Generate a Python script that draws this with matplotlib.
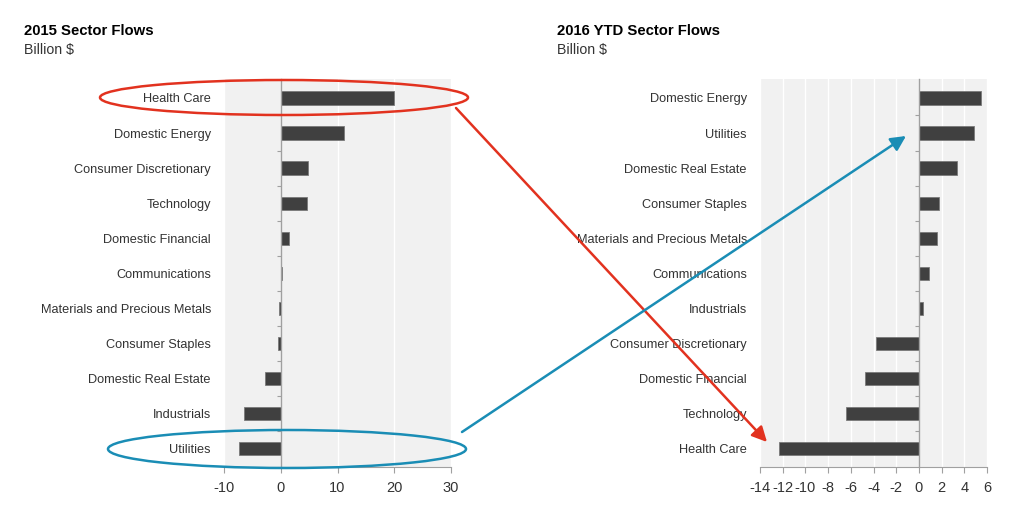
import matplotlib
matplotlib.use('Agg')
import matplotlib.pyplot as plt
import matplotlib.transforms as mtransforms
from matplotlib.patches import Ellipse, FancyArrowPatch

plt.rcParams['font.family'] = ['Liberation Sans', 'DejaVu Sans']

# 2015 flows, top to bottom
sectors_2015 = ['Health Care', 'Domestic Energy', 'Consumer Discretionary', 'Technology',
                'Domestic Financial', 'Communications', 'Materials and Precious Metals',
                'Consumer Staples', 'Domestic Real Estate', 'Industrials', 'Utilities']
flows_2015 = [19.9, 11.2, 4.8, 4.6, 1.4, 0.2, -0.35, -0.5, -2.7, -6.4, -7.3]

# 2016 YTD flows, top to bottom
sectors_2016 = ['Domestic Energy', 'Utilities', 'Domestic Real Estate', 'Consumer Staples',
                'Materials and Precious Metals', 'Communications', 'Industrials',
                'Consumer Discretionary', 'Domestic Financial', 'Technology', 'Health Care']
flows_2016 = [5.43, 4.85, 3.38, 1.76, 1.59, 0.91, 0.38, -3.79, -4.76, -6.46, -12.3]

xticks_2015 = [-10, 0, 10, 20, 30]
xticks_2016 = list(range(-14, 7, 2))

W, H = 1024, 528
TXT = '#333333'
BAR = '#404040'
AXC = '#a0a0a0'


def px(x, y):
    return x / W, 1 - y / H


def draw_panel(ax, names, vals, xticks, title, title_x):
    n = len(names)
    ypos = list(range(n - 1, -1, -1))
    ax.set_facecolor('#f1f1f1')
    ax.barh(ypos, vals, height=0.38, color=BAR, edgecolor='#7a7a7a', linewidth=0.6, zorder=3)
    ax.set_xlim(xticks[0], xticks[-1])
    ax.set_ylim(-0.52, n - 0.46)
    ax.set_xticks(xticks)
    ax.set_xticklabels([str(t) for t in xticks])
    ax.grid(axis='x', color='white', linewidth=1.0, zorder=1)
    ax.set_axisbelow(True)

    # zero line carries the small ticks between categories
    ax.spines['left'].set_position(('data', 0))
    ax.spines['left'].set_color(AXC)
    ax.spines['left'].set_linewidth(1.0)
    ax.spines['left'].set_zorder(4)
    ax.set_yticks([y + 0.5 for y in range(n - 1)])
    ax.set_yticklabels([])
    ax.tick_params(axis='y', length=3, width=0.8, color=AXC)

    # category labels sit outside the plot area
    trans = mtransforms.blended_transform_factory(ax.transAxes, ax.transData)
    off = mtransforms.ScaledTranslation(-13 / 100, 0, fig.dpi_scale_trans)
    for y, name in zip(ypos, names):
        ax.text(0, y, name, transform=trans + off, ha='right', va='center_baseline',
                fontsize=9.2, color=TXT)

    ax.tick_params(axis='x', length=4, width=0.8, color=AXC, labelsize=10.5,
                   labelcolor=TXT, pad=6)
    for s in ['top', 'right']:
        ax.spines[s].set_visible(False)
    ax.spines['bottom'].set_color(AXC)
    ax.spines['bottom'].set_linewidth(0.8)

    fig.text(title_x, 1 - 35 / H, title, fontsize=10.7, fontweight='bold',
             color='black', va='baseline')
    fig.text(title_x, 1 - 54 / H, 'Billion $', fontsize=10.2, color=TXT, va='baseline')


fig = plt.figure(figsize=(10.24, 5.28), dpi=100)
ax1 = fig.add_axes([224 / W, 1 - 467 / H, 227 / W, 388 / H])
ax2 = fig.add_axes([760 / W, 1 - 467 / H, 227 / W, 388 / H])

draw_panel(ax1, sectors_2015, flows_2015, xticks_2015, '2015 Sector Flows', 24 / W)
draw_panel(ax2, sectors_2016, flows_2016, xticks_2016, '2016 YTD Sector Flows', 557 / W)

red = '#e2321f'
blue = '#1a8db5'

for (cx, cy, w, h, c) in [(284, 97.5, 368, 35, red), (287, 449, 358, 38, blue)]:
    e = Ellipse(px(cx, cy), w / W, h / H, transform=fig.transFigure, fill=False,
                edgecolor=c, linewidth=1.8, zorder=10)
    fig.add_artist(e)

for (x0, y0, x1, y1, c) in [(456, 108, 767, 442, red), (462, 432, 906, 136, blue)]:
    a = FancyArrowPatch(px(x0, y0), px(x1, y1), transform=fig.transFigure,
                        arrowstyle='-|>,head_length=9,head_width=4.5', color=c,
                        linewidth=1.8, zorder=10, shrinkA=0, shrinkB=0)
    fig.add_artist(a)

fig.savefig('out.png', dpi=100)
